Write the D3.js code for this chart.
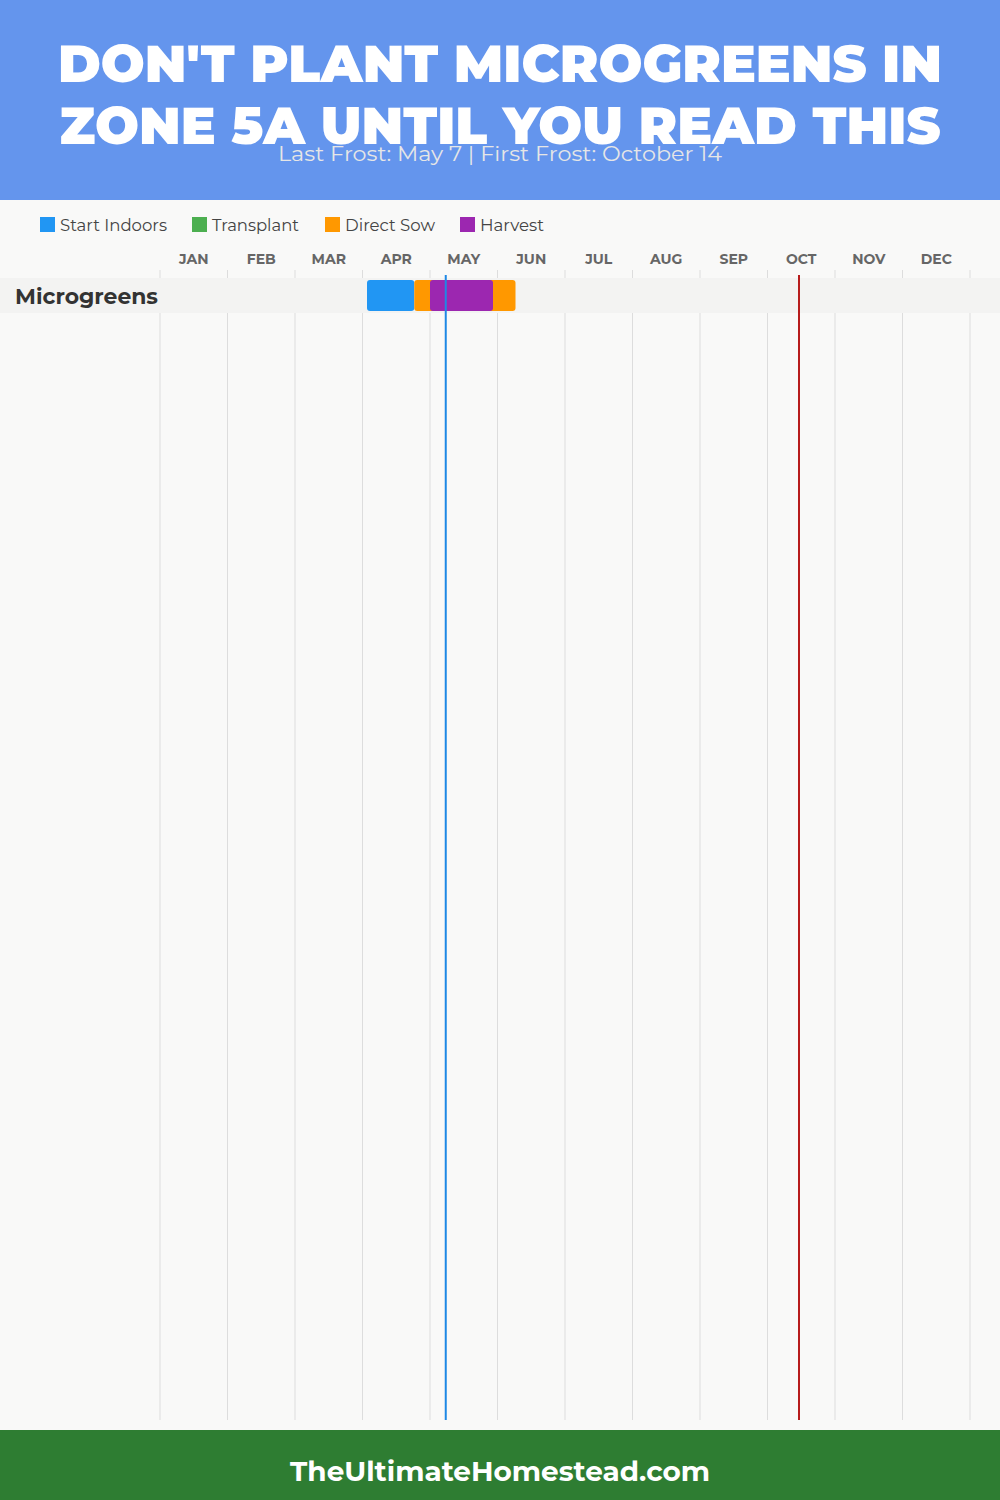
<!DOCTYPE html>
<html>
<head>
<meta charset="utf-8">
<script src="https://cdn.jsdelivr.net/npm/d3@7"></script>
<style>
  html, body { margin: 0; padding: 0; background: #f9f9f8; }
  svg { display: block; }
</style>
</head>
<body>
<svg id="chart" width="1000" height="1500"></svg>
<script>
// ---- data ----
const titleLines = ["DON'T PLANT MICROGREENS IN", "ZONE 5A UNTIL YOU READ THIS"];
const subtitle = "Last Frost: May 7 | First Frost: October 14";
const footerText = "TheUltimateHomestead.com";
const months = ["JAN","FEB","MAR","APR","MAY","JUN","JUL","AUG","SEP","OCT","NOV","DEC"];
const legendNames = ["Start Indoors", "Transplant", "Direct Sow", "Harvest"];
const legendColors = ["#2196F3", "#4CAF50", "#FF9800", "#9C27B0"];
const crops = ["Microgreens"];
// segments: [crop, type, startMonth(1-12), startDay, endMonth, endDay]  (drawn in order)
const segments = [
  ["Microgreens", "Start Indoors", 4, 2, 4, 23],
  ["Microgreens", "Direct Sow", 4, 23, 6, 8],
  ["Microgreens", "Harvest", 4, 30, 5, 28]
];
const frostDates = [
  { name: "Last Frost", month: 5, day: 7, color: "#1E88E5" },
  { name: "First Frost", month: 10, day: 14, color: "#B71C1C" }
];

// ---- layout ----
const W = 1000, H = 1500;
const svg = d3.select("#chart");
const font = "Montserrat, 'DejaVu Sans', sans-serif";

const x = d3.scaleLinear().domain([0, 12]).range([160, 970]);
const monthPos = (m, d) => x((m - 1) + d / 30);
const color = d3.scaleOrdinal().domain(legendNames).range(legendColors);
const y = d3.scaleBand().domain(crops).range([278, 278 + 35 * crops.length]).paddingInner(0);

// background
svg.append("rect").attr("width", W).attr("height", H).attr("fill", "#f9f9f8");

// header
svg.append("rect").attr("x", 0).attr("y", 0).attr("width", W).attr("height", 200).attr("fill", "#6495ED");
const titleBaselines = [82, 144];
titleLines.forEach((t, i) => {
  svg.append("text")
    .attr("x", 500).attr("y", titleBaselines[i])
    .attr("text-anchor", "middle")
    .attr("font-family", font).attr("font-weight", 900)
    .attr("font-size", 51).attr("fill", "#ffffff")
    .attr("textLength", i === 0 ? 884 : 881).attr("lengthAdjust", "spacingAndGlyphs")
    .text(t);
});
svg.append("text")
  .attr("x", 500).attr("y", 161)
  .attr("text-anchor", "middle")
  .attr("font-family", font).attr("font-weight", 400)
  .attr("font-size", 20).attr("fill", "#e6e6e6")
  .attr("textLength", 444).attr("lengthAdjust", "spacingAndGlyphs")
  .text(subtitle);

// legend
const legendX = [40, 192, 325, 460];
const legendTextLen = [107, 87, 90, 64];
legendNames.forEach((n, i) => {
  svg.append("rect").attr("x", legendX[i]).attr("y", 217).attr("width", 15).attr("height", 15)
    .attr("fill", color(n));
  svg.append("text").attr("x", legendX[i] + 20).attr("y", 231)
    .attr("font-family", font).attr("font-size", 16).attr("fill", "#444")
    .attr("textLength", legendTextLen[i]).attr("lengthAdjust", "spacingAndGlyphs")
    .text(n);
});

// month labels
svg.selectAll("text.month").data(months).enter().append("text")
  .attr("class", "month")
  .attr("x", (d, i) => x(i + 0.5)).attr("y", 264)
  .attr("text-anchor", "middle")
  .attr("font-family", font).attr("font-weight", 700)
  .attr("font-size", 14).attr("fill", "#666")
  .text(d => d);

// grid lines
svg.selectAll("line.grid").data(d3.range(13)).enter().append("line")
  .attr("class", "grid")
  .attr("x1", d => x(d)).attr("x2", d => x(d))
  .attr("y1", 270).attr("y2", 1420)
  .attr("stroke", "#dddddd").attr("stroke-width", 1);

// row bands + labels
crops.forEach((c) => {
  svg.append("rect").attr("x", 0).attr("y", y(c)).attr("width", W).attr("height", y.bandwidth())
    .attr("fill", "#f3f3f2");
  svg.append("text").attr("x", 15).attr("y", y(c) + y.bandwidth() / 2 + 8)
    .attr("font-family", font).attr("font-weight", 700).attr("font-size", 21)
    .attr("fill", "#333")
    .attr("textLength", 143).attr("lengthAdjust", "spacingAndGlyphs")
    .text(c);
});

// bars
svg.selectAll("rect.seg").data(segments).enter().append("rect")
  .attr("class", "seg")
  .attr("x", d => monthPos(d[2], d[3]))
  .attr("width", d => monthPos(d[4], d[5]) - monthPos(d[2], d[3]))
  .attr("y", d => y(d[0]) + 2)
  .attr("height", y.bandwidth() - 4)
  .attr("rx", 3).attr("ry", 3)
  .attr("fill", d => color(d[1]));

// frost lines
frostDates.forEach(f => {
  const fx = monthPos(f.month, f.day);
  svg.append("line").attr("x1", fx).attr("x2", fx).attr("y1", 275).attr("y2", 1420)
    .attr("stroke", f.color).attr("stroke-width", 2);
});

// footer
svg.append("rect").attr("x", 0).attr("y", 1430).attr("width", W).attr("height", 70).attr("fill", "#2E7D32");
svg.append("text").attr("x", 500).attr("y", 1481)
  .attr("text-anchor", "middle")
  .attr("font-family", font).attr("font-weight", 700)
  .attr("font-size", 28).attr("fill", "#fff")
  .attr("textLength", 420).attr("lengthAdjust", "spacingAndGlyphs")
  .text(footerText);
</script>
</body>
</html>
